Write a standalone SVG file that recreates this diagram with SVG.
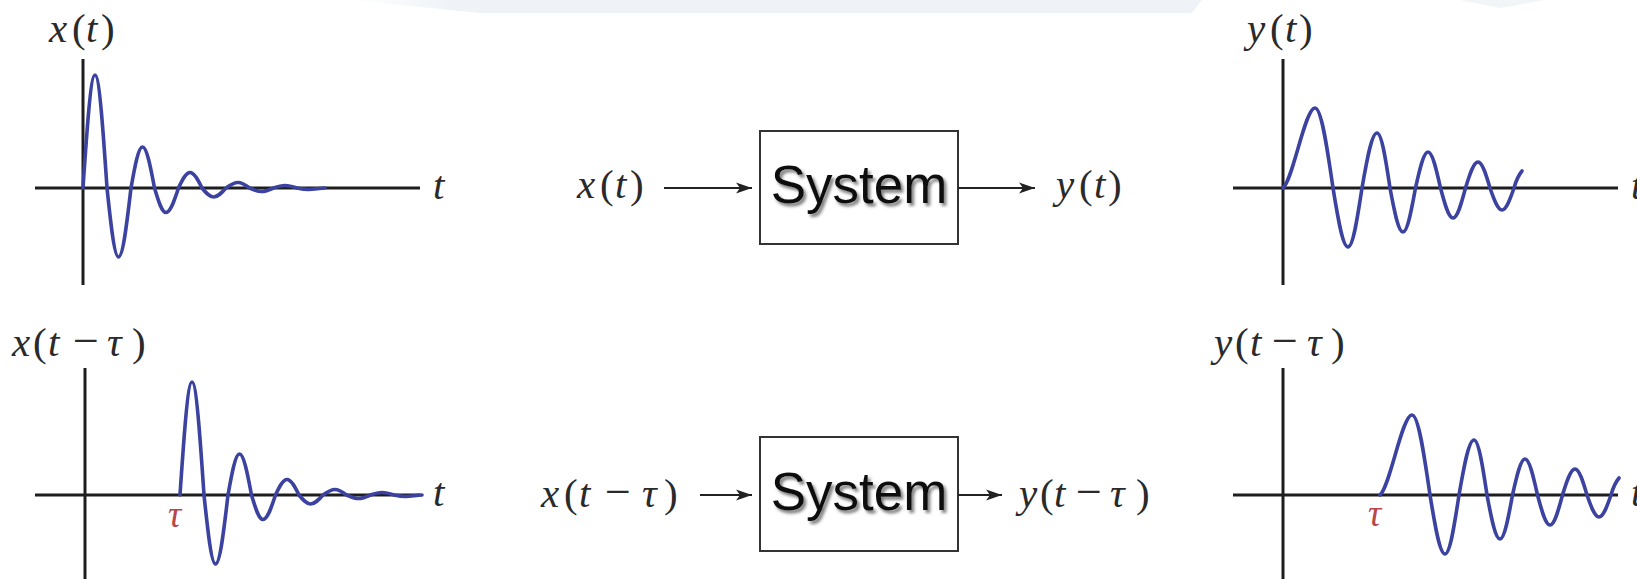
<svg xmlns="http://www.w3.org/2000/svg" xmlns:xlink="http://www.w3.org/1999/xlink" width="1637" height="579" viewBox="0 0 1637 579">
<style>
.ax{stroke:#1e1e1e;stroke-width:3;fill:none;stroke-linecap:butt}
.wave{stroke:#3b42a0;stroke-width:3.6;fill:none;stroke-linejoin:round;stroke-linecap:round}
.lbl{font-family:"Liberation Serif",serif;font-size:41px;fill:#2a2a2a}
.it{font-style:italic}
.mn{font-size:46px}
.tau{font-family:"Liberation Serif",serif;font-size:37px;font-style:italic;fill:#b8474a}
.box{fill:#ffffff;stroke:#333333;stroke-width:2}
.sys{font-family:"Liberation Sans",Arial,sans-serif;font-size:53px;fill:#111111}
.conn{stroke:#222222;stroke-width:2.2;fill:none}
</style>
<defs>
<marker id="ah" markerUnits="userSpaceOnUse" markerWidth="18" markerHeight="14" refX="16" refY="7" orient="auto">
<path d="M0,1.5 L16,7 L0,12.5 L4,7 z" fill="#222222"/>
</marker>
<filter id="shadow" x="-10%" y="-20%" width="130%" height="150%">
<feDropShadow dx="2.5" dy="3" stdDeviation="1.8" flood-color="#666666" flood-opacity="0.85"/>
</filter>
<linearGradient id="bandfade" x1="0" y1="0" x2="1" y2="0">
<stop offset="0" stop-color="#eff3f7" stop-opacity="0"/>
<stop offset="0.12" stop-color="#eff3f7" stop-opacity="1"/>
<stop offset="1" stop-color="#eff3f7" stop-opacity="1"/>
</linearGradient>
<path id="waveL" class="wave" d="M83,188 C86.9,130.1 90.7,75 95,75 C99.3,75 103.1,130.1 107,188 C110.7,223.3 114.3,257 118.5,257 C123,257 126.9,223.3 131,188 C134.7,167 138.3,147 142.5,147 C146.8,147 150.6,167 154.5,188 C158.2,200.5 161.8,212.5 166,212.5 C170.5,212.5 174.4,200.5 178.5,188 C182.2,180.1 185.8,172.5 190,172.5 C194.3,172.5 198.1,180.1 202,188 C205.7,192.6 209.3,197 213.5,197 C218,197 221.9,192.6 226,188 C229.9,185.2 233.7,182.5 238,182.5 C242.2,182.5 245.8,185.2 249.5,188 C253.4,189.8 257.2,191.5 261.5,191.5 C265.8,191.5 269.6,189.8 273.5,188 C277.2,186.7 280.8,185.5 285,185.5 C289.3,185.5 293.1,186.7 297,188 C300.7,188.8 304.3,189.5 308.5,189.5 C314,189.5 320,188 325,188"/>
<path id="waveR" class="wave" d="M1283,188 C1293,180 1305,108 1315,108 C1321.5,108 1327.1,147 1333,188 C1337.9,218.2 1342.6,247 1348,247 C1353.1,247 1357.4,218.2 1362,188 C1366.9,159.8 1371.6,133 1377,133 C1381.7,133 1385.8,159.8 1390,188 C1394.2,210.5 1398.3,232 1403,232 C1407.5,232 1411.4,210.5 1415.5,188 C1419.6,169.6 1423.5,152 1428,152 C1432.5,152 1436.4,169.6 1440.5,188 C1444.6,203.4 1448.5,218 1453,218 C1457.5,218 1461.4,203.4 1465.5,188 C1469.6,174.7 1473.5,162 1478,162 C1482.3,162 1486.1,174.7 1490,188 C1493.9,199.3 1497.7,210 1502,210 C1506.3,210 1510.1,199.3 1514,188 C1516.5,179 1519.5,174 1522,171"/>
</defs>
<rect x="0" y="0" width="1637" height="579" fill="#ffffff"/>
<g id="background">
<polygon points="350,0 1202,0 1192,13 480,13" fill="url(#bandfade)"/>
<polygon points="1460,0 1545,0 1500,8" fill="#f1f5f8"/>
</g>

<g id="plot-x">
<line class="ax" x1="83" y1="59" x2="83" y2="285"/>
<line class="ax" x1="35" y1="188" x2="420" y2="188"/>
<use xlink:href="#waveL" href="#waveL"/>
<text class="lbl" y="42"><tspan class="it" x="49">x</tspan><tspan x="72">(</tspan><tspan class="it" x="86">t</tspan><tspan x="101">)</tspan></text>
<text class="lbl it" x="433" y="199">t</text>
</g>

<g id="plot-x-shift">
<line class="ax" x1="85" y1="368" x2="85" y2="579"/>
<line class="ax" x1="35" y1="495" x2="420" y2="495"/>
<use xlink:href="#waveL" href="#waveL" transform="translate(97,307)"/>
<text class="lbl" y="356"><tspan class="it" x="12">x</tspan><tspan x="33">(</tspan><tspan class="it" x="48">t</tspan><tspan class="mn" x="73">−</tspan><tspan class="it" x="107">τ</tspan><tspan x="132">)</tspan></text>
<text class="lbl it" x="433" y="506">t</text>
<text class="tau" x="168" y="527">τ</text>
</g>

<g id="plot-y">
<line class="ax" x1="1283" y1="59" x2="1283" y2="285"/>
<line class="ax" x1="1233" y1="188" x2="1618" y2="188"/>
<use xlink:href="#waveR" href="#waveR"/>
<text class="lbl" y="42"><tspan class="it" x="1247">y</tspan><tspan x="1270">(</tspan><tspan class="it" x="1285">t</tspan><tspan x="1299">)</tspan></text>
<text class="lbl it" x="1631" y="199">t</text>
</g>

<g id="plot-y-shift">
<line class="ax" x1="1283" y1="368" x2="1283" y2="579"/>
<line class="ax" x1="1233" y1="495" x2="1618" y2="495"/>
<use xlink:href="#waveR" href="#waveR" transform="translate(97,307)"/>
<text class="lbl" y="356"><tspan class="it" x="1214">y</tspan><tspan x="1235">(</tspan><tspan class="it" x="1250">t</tspan><tspan class="mn" x="1272">−</tspan><tspan class="it" x="1307">τ</tspan><tspan x="1331">)</tspan></text>
<text class="lbl it" x="1631" y="506">t</text>
<text class="tau" x="1368" y="526">τ</text>
</g>

<g id="system-top">
<rect class="box" x="760" y="131" width="198" height="113"/>
<text class="sys" x="859" y="203" text-anchor="middle" filter="url(#shadow)">System</text>
</g>

<g id="system-bottom">
<rect class="box" x="760" y="437" width="198" height="114"/>
<text class="sys" x="859" y="510" text-anchor="middle" filter="url(#shadow)">System</text>
</g>

<g id="label-in-top">
<text class="lbl" y="198"><tspan class="it" x="577">x</tspan><tspan x="600">(</tspan><tspan class="it" x="615">t</tspan><tspan x="630">)</tspan></text>
</g>
<g id="label-out-top">
<text class="lbl" y="198"><tspan class="it" x="1056">y</tspan><tspan x="1079">(</tspan><tspan class="it" x="1094">t</tspan><tspan x="1108">)</tspan></text>
</g>
<g id="label-in-bottom">
<text class="lbl" y="507"><tspan class="it" x="541">x</tspan><tspan x="564">(</tspan><tspan class="it" x="579">t</tspan><tspan class="mn" x="605">−</tspan><tspan class="it" x="642">τ</tspan><tspan x="664">)</tspan></text>
</g>
<g id="label-out-bottom">
<text class="lbl" y="507"><tspan class="it" x="1019">y</tspan><tspan x="1040">(</tspan><tspan class="it" x="1054">t</tspan><tspan class="mn" x="1076">−</tspan><tspan class="it" x="1110">τ</tspan><tspan x="1136">)</tspan></text>
</g>

<g id="connectors">
<line class="conn" x1="664" y1="188" x2="752" y2="188" marker-end="url(#ah)"/>
<line class="conn" x1="958" y1="188" x2="1035" y2="188" marker-end="url(#ah)"/>
<line class="conn" x1="700" y1="495" x2="752" y2="495" marker-end="url(#ah)"/>
<line class="conn" x1="958" y1="495" x2="1002" y2="495" marker-end="url(#ah)"/>
</g>
</svg>
